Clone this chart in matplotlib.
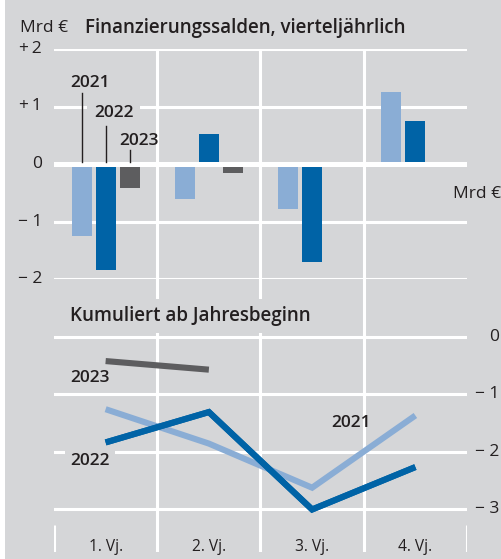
import matplotlib
matplotlib.use("Agg")
import matplotlib.pyplot as plt
import numpy as np

plt.rcParams['font.family'] = ['Open Sans', 'DejaVu Sans']

# data (Mrd €)
quarters = ['1. Vj.', '2. Vj.', '3. Vj.', '4. Vj.']
years = ['2021', '2022', '2023']
saldo_2021 = [-1.26, -0.60, -0.79, 1.26]
saldo_2022 = [-1.84, 0.53, -1.70, 0.74]
saldo_2023 = [-0.42, -0.15]
kum_2021 = [-1.26, -1.86, -2.63, -1.37]
kum_2022 = [-1.84, -1.31, -3.01, -2.27]
kum_2023 = [-0.42, -0.57]
top_ticks = [2, 1, 0, -1, -2]
top_labels = ['+\u20092', '+\u20091', '0', '\u2212 1', '\u2212 2']
bot_ticks = [0, -1, -2, -3]
bot_labels = ['0', '\u2212 1', '\u2212 2', '\u2212 3']

BG = '#d5d6d8'
LIGHT = '#8aadd5'
DARK = '#0063a6'
GREY = '#5d5d5f'
TXT = '#231f20'
colors = [LIGHT, DARK, GREY]

W, H = 502, 559
fig = plt.figure(figsize=(W / 100, H / 100), dpi=100)
fig.patch.set_facecolor('white')
fig.add_artist(plt.Rectangle((5 / W, 0), 1, 1, transform=fig.transFigure,
                             facecolor=BG, edgecolor='none', zorder=0))


def fx(x):
    return x / W


def fy(y):
    return 1 - y / H


# top panel: +2 at y=49, -2 at y=279 ; x from 54 to 467
ax1 = fig.add_axes([fx(54), fy(279), fx(467) - fx(54), fy(49) - fy(279)])
ax1.set_xlim(0, 4)
ax1.set_ylim(-2, 2)
# bottom panel: 0 at y=337, unit 57.3 px
u = 57.3
ax2 = fig.add_axes([fx(54), fy(552), fx(467) - fx(54), fy(279) - fy(552)])
ax2.set_xlim(0, 4)
ax2.set_ylim(-(552 - 337) / u, (337 - 279) / u)

for ax in (ax1, ax2):
    ax.patch.set_alpha(0)
    ax.axis('off')
    for q in (1, 2, 3):
        ax.axvline(q, color='white', lw=2.2, zorder=1)

for t in top_ticks:
    ax1.axhline(t, color='white', lw=3.6 if t == 0 else 2.2, zorder=3 if t == 0 else 1)
for t in bot_ticks:
    ax2.axhline(t, color='white', lw=2.2, zorder=1)
ax2.vlines([0, 4], -(552 - 337) / u, -(525 - 337) / u, color='white', lw=2.2)

# bars
xq = np.arange(4) + 0.5
bw = 0.194
off = 0.232
for i, vals in enumerate([saldo_2021, saldo_2022, saldo_2023]):
    x = xq[:len(vals)] + (i - 1) * off
    ax1.bar(x, vals, width=bw, color=colors[i], zorder=2)

# year labels with leader lines in top panel
lab_x = [0.155, 0.385, 0.63]
lab_y = [1.41, 0.89, 0.40]
line_top = [1.23, 0.66, 0.24]
for i, yr in enumerate(years):
    bb = dict(boxstyle='square,pad=0.4', fc=BG, ec='none') if i == 1 else None
    ax1.text(lab_x[i], lab_y[i], yr, ha='left', va='center', fontsize=12.5,
             fontweight='semibold', color=TXT, zorder=4, bbox=bb)
    ax1.plot([0.5 + (i - 1) * off] * 2, [0.03, line_top[i]], color=TXT, lw=1.0, zorder=5)

# lines bottom panel
for vals, c in zip([kum_2021, kum_2022, kum_2023], colors):
    ax2.plot(xq[:len(vals)], vals, color=c, lw=4.4, solid_capstyle='butt',
             solid_joinstyle='miter', zorder=3)
ax2.plot(xq[:len(kum_2022)], kum_2022, color=DARK, lw=4.4, solid_capstyle='butt',
         solid_joinstyle='miter', zorder=4)

ax2.text(0.155, -(378 - 337) / u, '2023', ha='left', va='center', fontsize=12.5,
         fontweight='semibold', color=TXT, zorder=5)
ax2.text(0.155, -(461 - 337) / u, '2022', ha='left', va='center', fontsize=12.5,
         fontweight='semibold', color=TXT, zorder=5,
         bbox=dict(boxstyle='square,pad=0.3', fc=BG, ec='none'))
ax2.text((331 - 54) / 103.25, -(423 - 337) / u, '2021', ha='left', va='center',
         fontsize=12.5, fontweight='semibold', color=TXT, zorder=5)

ax2.text(0.155, (337 - 316) / u, 'Kumuliert ab Jahresbeginn', ha='left',
         va='center', fontsize=13.5, fontweight='semibold', color=TXT, zorder=5,
         bbox=dict(boxstyle='square,pad=0.35', fc=BG, ec='none'))

# quarter labels
for x, lab in zip(xq, quarters):
    ax2.text(x, -(547 - 337) / u, lab, ha='center', va='center', fontsize=11.2,
             color=TXT)

# axis labels
for t, lab in zip(top_ticks, top_labels):
    fig.text(fx(42), fy(164 - t * 57.5), lab, ha='right', va='center',
             fontsize=12.5, color=TXT)
for t, lab in zip(bot_ticks, bot_labels):
    fig.text(fx(499), fy(337 - t * u), lab, ha='right', va='center',
             fontsize=12.5, color=TXT)

fig.text(fx(20), fy(28), 'Mrd \u20ac', ha='left', va='center', fontsize=12.5, color=TXT)
fig.text(fx(85), fy(28), 'Finanzierungssalden, vierteljährlich', ha='left',
         va='center', fontsize=13.5, fontweight='semibold', color=TXT)
fig.text(fx(501), fy(194), 'Mrd \u20ac', ha='right', va='center', fontsize=12.5,
         color=TXT)

fig.savefig('out.png', dpi=100, facecolor=fig.get_facecolor())
